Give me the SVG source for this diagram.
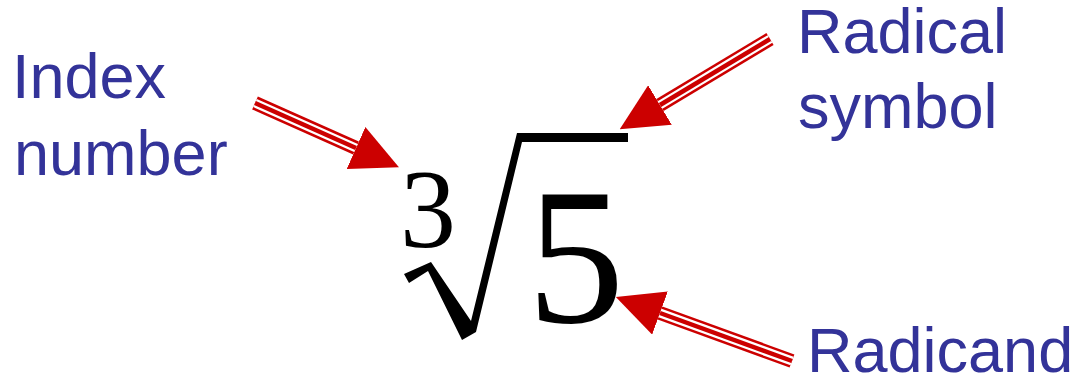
<svg xmlns="http://www.w3.org/2000/svg" width="1080" height="378" viewBox="0 0 1080 378">
  <style>
    .label { font-family: "Liberation Sans", Arial, sans-serif; font-size: 63px; fill: #333399; }
    .math { font-family: "Liberation Serif", "Times New Roman", serif; fill: #000000; }
    .shaft-outer { stroke: #CC0000; stroke-width: 14; fill: none; stroke-linecap: butt; }
    .shaft-gap { stroke: #FFFFFF; stroke-width: 9; fill: none; stroke-linecap: butt; }
    .shaft-core { stroke: #CC0000; stroke-width: 4.5; fill: none; stroke-linecap: butt; }
  </style>
  <defs>
    <marker id="head" viewBox="0 0 47 46" refX="0" refY="23" markerWidth="47" markerHeight="46" markerUnits="userSpaceOnUse" orient="auto">
      <path d="M0,0 L47,23 L0,46 Z" fill="#CC0000"/>
    </marker>
  </defs>
  <rect width="1080" height="378" fill="#FFFFFF"/>

  <g id="expression">
    <path d="M404,274 L431,262 L471,321 L517,133 L628,133 L628,142 L522,142 L476,332 L462,340 L428,271 L409,283 Z" fill="#000000"/>
    <text class="math" x="400" y="247" font-size="112">3</text>
    <text class="math" x="527" y="322" font-size="195">5</text>
  </g>

  <g id="label-index">
    <text class="label" x="12" y="98" font-size="64">Index</text>
    <text class="label" x="14" y="175" font-size="64">number</text>
  </g>

  <g id="label-radical">
    <text class="label" x="797" y="53">Radical</text>
    <text class="label" x="798" y="128">symbol</text>
  </g>

  <g id="label-radicand">
    <text class="label" x="807" y="372">Radicand</text>
  </g>

  <g id="connectors">
    <line class="shaft-outer" x1="255" y1="103" x2="356" y2="148" marker-end="url(#head)"/>
    <line class="shaft-gap" x1="255" y1="103" x2="356" y2="148"/>
    <line class="shaft-core" x1="255" y1="103" x2="356" y2="148"/>

    <line class="shaft-outer" x1="770" y1="39" x2="660" y2="105" marker-end="url(#head)"/>
    <line class="shaft-gap" x1="770" y1="39" x2="660" y2="105"/>
    <line class="shaft-core" x1="770" y1="39" x2="660" y2="105"/>

    <line class="shaft-outer" x1="792" y1="361" x2="660" y2="313" marker-end="url(#head)"/>
    <line class="shaft-gap" x1="792" y1="361" x2="660" y2="313"/>
    <line class="shaft-core" x1="792" y1="361" x2="660" y2="313"/>
  </g>
</svg>
